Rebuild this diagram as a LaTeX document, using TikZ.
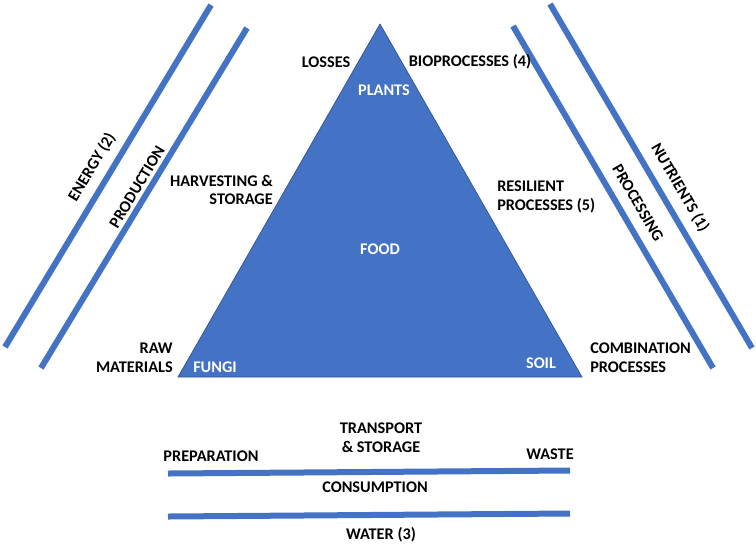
\documentclass[tikz,border=0pt]{standalone}
\usepackage{fontspec}
\setmainfont{Carlito}
\definecolor{obl}{HTML}{4472C4}
\definecolor{obd}{HTML}{2F528F}
\begin{document}
\begin{tikzpicture}[x=0.75pt,y=-0.75pt,
  lbl/.style={font=\bfseries\fontsize{12.2}{14}\selectfont, inner sep=0pt, text=black},
  wlbl/.style={lbl, text=white},
  bar/.style={draw=obl, line width=4.5pt}]
\useasboundingbox (0,0) rectangle (756,544);
% triangle
\coordinate (apex) at (380,24);
\coordinate (bl) at (178,377);
\coordinate (br) at (582,377);
\fill[obl, draw=obd, line width=0.5pt] (apex) -- (br) -- (bl) -- cycle;
% diagonal bars
\coordinate (e1) at (5,347); \coordinate (e2) at (211,5);
\coordinate (p1) at (41,368); \coordinate (p2) at (247,28);
\coordinate (q1) at (513,26); \coordinate (q2) at (713,368);
\coordinate (n1) at (550,4); \coordinate (n2) at (752,348);
\draw[bar] (e1) -- (e2);
\draw[bar] (p1) -- (p2);
\draw[bar] (q1) -- (q2);
\draw[bar] (n1) -- (n2);
% horizontal bars
\coordinate (h1) at (168,473.5); \coordinate (h2) at (570,470.5);
\coordinate (w1) at (168,516.5); \coordinate (w2) at (570,513.5);
\draw[bar] (h1) -- (h2);
\draw[bar] (w1) -- (w2);
% labels
\node[lbl] (losses) at (326,62) {LOSSES};
\node[lbl] (bio) at (470,62) {BIOPROCESSES (4)};
\node[wlbl] (plants) at (384,90) {PLANTS};
\node[lbl, align=right, anchor=east] (harv) at (273,190) {HARVESTING \&\\STORAGE};
\node[lbl, align=left, anchor=west] (res) at (497,197) {RESILIENT\\PROCESSES (5)};
\node[wlbl] (food) at (380,249) {FOOD};
\node[lbl, align=right, anchor=east] (raw) at (173,358) {RAW\\MATERIALS};
\node[wlbl] (fungi) at (215,367) {FUNGI};
\node[wlbl] (soil) at (541,363) {SOIL};
\node[lbl, align=left, anchor=west] (comb) at (590,358) {COMBINATION\\PROCESSES};
\node[lbl, rotate=58.8] (energy) at (92,167) {ENERGY (2)};
\node[lbl, rotate=58.8] (prod) at (137,187) {PRODUCTION};
\node[lbl, rotate=-59.7] (nutr) at (680,188) {NUTRIENTS (1)};
\node[lbl, rotate=-59.7] (proc) at (638,203) {PROCESSING};
\node[lbl] (prep) at (211,456) {PREPARATION};
\node[lbl, align=center] (trans) at (381,438) {TRANSPORT\\\& STORAGE};
\node[lbl] (waste) at (550,454) {WASTE};
\node[lbl] (cons) at (375,487) {CONSUMPTION};
\node[lbl] (water) at (381,535) {WATER (3)};
\end{tikzpicture}
\end{document}
